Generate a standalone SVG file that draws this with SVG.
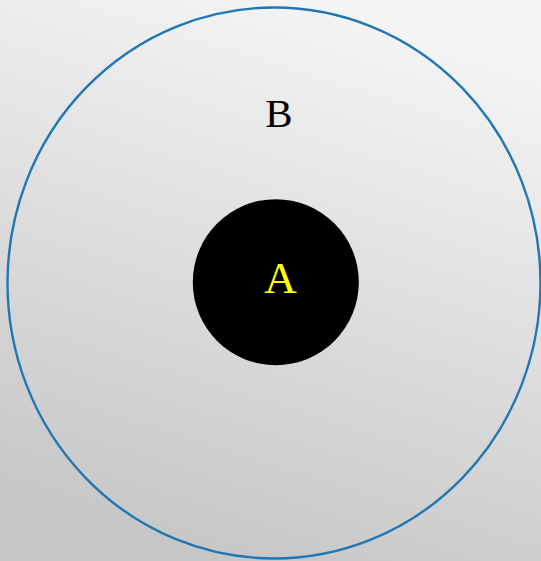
<svg xmlns="http://www.w3.org/2000/svg" width="541" height="561" viewBox="0 0 541 561">
<defs>
<linearGradient id="bg" x1="0.35" y1="1" x2="0.65" y2="0">
<stop offset="0" stop-color="#c6c6c6"/>
<stop offset="1" stop-color="#f5f5f5"/>
</linearGradient>
<style>
.lbl{font-family:"Liberation Serif","Times New Roman",serif;text-anchor:middle}
</style>
</defs>
<rect x="0" y="0" width="541" height="561" fill="url(#bg)"/>
<g id="B">
<ellipse cx="274" cy="283" rx="266.5" ry="275.5" fill="none" stroke="#1f77b4" stroke-width="2.4"/>
<text class="lbl" x="279" y="127" font-size="41" fill="#000">B</text>
</g>
<g id="A">
<circle cx="275.8" cy="282.2" r="83" fill="#000"/>
<text class="lbl" x="280.5" y="293" font-size="45" fill="#ffff00">A</text>
</g>
<g id="connectors"/>
</svg>
